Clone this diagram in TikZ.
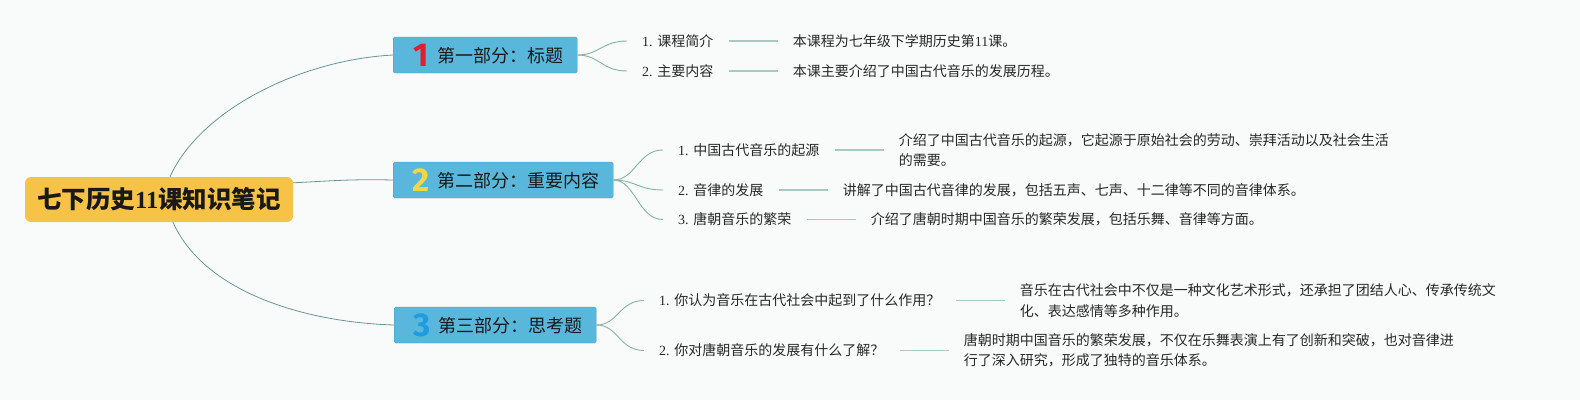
\documentclass[tikz,border=0pt]{standalone}
\usepackage{fontspec}
\setmainfont{Liberation Serif}
\newfontfamily\cjk{Noto Sans CJK SC}
\newfontfamily\numfont{Fira Sans}
\usetikzlibrary{positioning}

\definecolor{bgcol}{RGB}{249,250,250}
\definecolor{rootcol}{RGB}{246,195,70}
\definecolor{partcol}{RGB}{90,183,220}
\definecolor{partline}{RGB}{72,158,192}
\definecolor{maincol}{RGB}{104,152,142}
\definecolor{subcol}{RGB}{135,178,166}
\definecolor{stubcol}{RGB}{170,201,192}
\definecolor{txtcol}{RGB}{40,40,40}
\definecolor{numred}{RGB}{225,30,45}
\definecolor{numyellow}{RGB}{245,215,65}
\definecolor{numblue}{RGB}{30,155,225}

\newcommand\lat[1]{{\rmfamily #1}}
\newcommand\partnum[2]{\hspace*{4pt}\raisebox{-4pt}{\makebox[18pt][r]{\numfont\bfseries\fontsize{33}{33}\selectfont\color{#1}#2}}\hspace{8pt}}

\begin{document}
\begin{tikzpicture}[x=1pt, y=-1pt,
    rootbox/.style={fill=rootcol, rounded corners=6pt, minimum width=268pt, minimum height=45pt,
        inner sep=0pt, font=\cjk\bfseries\fontsize{24.5}{28}\selectfont, text=black!90},
    partbox/.style={draw=partline, fill=partcol, rounded corners=1.5pt, inner xsep=14pt, inner ysep=0pt,
        minimum height=36pt, anchor=west, font=\cjk\fontsize{18}{20}\selectfont, text=black!90},
    itemtext/.style={anchor=west, inner xsep=15pt, inner ysep=2pt, text=txtcol,
        font=\cjk\fontsize{14}{20.5}\selectfont},
    desctext/.style={itemtext, align=left, right=49pt of #1},
    mainline/.style={draw=maincol, line width=0.8pt},
    subline/.style={draw=subcol, line width=0.9pt},
    stubline/.style={draw=stubcol, line width=1.6pt}]

    \useasboundingbox (0,0) rectangle (1580,400);
    \fill[bgcol] (0,0) rectangle (1580,400);

    \node[rootbox] (root) at (159,199.5) {七下历史\lat{11}课知识笔记};

    \node[partbox] (p1) at (393,55) {\partnum{numred}{1}第一部分：标题};
    \node[partbox] (p2) at (393,180) {\partnum{numyellow}{2}第二部分：重要内容};
    \node[partbox] (p3) at (394,325) {\partnum{numblue}{3}第三部分：思考题};

    \draw[mainline] ([xshift=11pt]root.north) .. controls (200,110) and (300,60) .. (p1.west);
    \draw[mainline] ([yshift=-6pt]root.north east) .. controls (330,181) and (350,179) .. (p2.west);
    \draw[mainline] ([xshift=14pt]root.south) .. controls (203,290) and (300,322) .. (p3.west);

    \node[itemtext] (i11) at (627,41) {\lat{1. }课程简介};
    \node[itemtext] (i12) at (627,71) {\lat{2. }主要内容};
    \node[itemtext] (i21) at (663,150) {\lat{1. }中国古代音乐的起源};
    \node[itemtext] (i22) at (663,190) {\lat{2. }音律的发展};
    \node[itemtext] (i23) at (663,219.5) {\lat{3. }唐朝音乐的繁荣};
    \node[itemtext] (i31) at (644,300.5) {\lat{1. }你认为音乐在古代社会中起到了什么作用？};
    \node[itemtext] (i32) at (644,350.5) {\lat{2. }你对唐朝音乐的发展有什么了解？};

    \node[desctext=i11] (d11) {本课程为七年级下学期历史第\lat{11}课。};
    \node[desctext=i12] (d12) {本课主要介绍了中国古代音乐的发展历程。};
    \node[desctext=i21] (d21) {介绍了中国古代音乐的起源，它起源于原始社会的劳动、崇拜活动以及社会生活\\的需要。};
    \node[desctext=i22] (d22) {讲解了中国古代音律的发展，包括五声、七声、十二律等不同的音律体系。};
    \node[desctext=i23] (d23) {介绍了唐朝时期中国音乐的繁荣发展，包括乐舞、音律等方面。};
    \node[desctext=i31] (d31) {音乐在古代社会中不仅是一种文化艺术形式，还承担了团结人心、传承传统文\\化、表达感情等多种作用。};
    \node[desctext=i32] (d32) {唐朝时期中国音乐的繁荣发展，不仅在乐舞表演上有了创新和突破，也对音律进\\行了深入研究，形成了独特的音乐体系。};

    \draw[subline] (p1.east) .. controls +(22,0) and +(-25,0) .. (i11.west);
    \draw[subline] (p1.east) .. controls +(22,0) and +(-25,0) .. (i12.west);
    \draw[subline] (p2.east) .. controls +(22,0) and +(-25,0) .. (i21.west);
    \draw[subline] (p2.east) .. controls +(22,0) and +(-25,0) .. (i22.west);
    \draw[subline] (p2.east) .. controls +(22,0) and +(-25,0) .. (i23.west);
    \draw[subline] (p3.east) .. controls +(22,0) and +(-25,0) .. (i31.west);
    \draw[subline] (p3.east) .. controls +(22,0) and +(-25,0) .. (i32.west);

    \draw[stubline] (i11) -- (d11);
    \draw[stubline] (i12) -- (d12);
    \draw[stubline] (i21) -- (d21);
    \draw[stubline] (i22) -- (d22);
    \draw[stubline] (i23) -- (d23);
    \draw[stubline] (i31) -- (d31);
    \draw[stubline] (i32) -- (d32);
\end{tikzpicture}
\end{document}
